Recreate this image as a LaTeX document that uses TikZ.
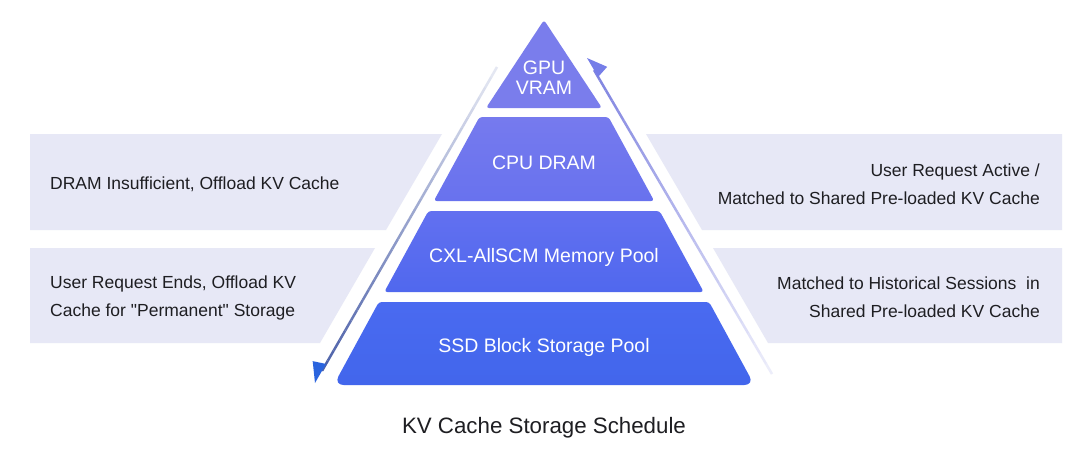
\documentclass[tikz,border=0pt]{standalone}
\usepackage{fontspec}
\setmainfont{Liberation Sans}
\usetikzlibrary{calc}

\definecolor{panelfill}{RGB}{231,232,246}
\definecolor{labeltext}{RGB}{30,30,34}
\definecolor{gpucol}{RGB}{122,125,236}
\definecolor{cputop}{RGB}{118,122,238}
\definecolor{cpubot}{RGB}{104,114,238}
\definecolor{cxltop}{RGB}{98,112,240}
\definecolor{cxlbot}{RGB}{80,104,238}
\definecolor{ssdtop}{RGB}{74,106,240}
\definecolor{ssdbot}{RGB}{66,102,236}
\definecolor{downline}{RGB}{78,98,170}
\definecolor{downhead}{RGB}{42,100,222}
\definecolor{upline}{RGB}{128,132,224}
\definecolor{uphead}{RGB}{118,126,232}

\tikzset{
  panel/.style={fill=panelfill},
  tierlabel/.style={text=white, font=\fontsize{19.5}{20}\selectfont, align=center},
  sidetext/.style={text=labeltext, inner sep=0pt, font=\fontsize{17.5}{28}\selectfont},
  flowline/.style={line width=2.5pt}
}

\begin{document}
\begin{tikzpicture}[x=1pt, y=-1pt]
  \useasboundingbox[fill=white] (0,0) rectangle (1080,464);

  % side panels
  \fill[panel] (30,134) -- (442,134) -- (386,230) -- (30,230) -- cycle;
  \fill[panel] (30,248) -- (375,248) -- (320,343) -- (30,343) -- cycle;
  \fill[panel] (646,134) -- (1062,134) -- (1062,230) -- (702,230) -- cycle;
  \fill[panel] (713,248) -- (1062,248) -- (1062,343) -- (768,343) -- cycle;

  % flow lines
  \coordinate (lTop) at (497,67);
  \coordinate (lTip) at (315,383);
  \coordinate (lEnd) at ($(lTip)!14pt!(lTop)$);
  \coordinate (rBot) at (772,374);
  \coordinate (rTip) at (587,58);
  \coordinate (rEnd) at ($(rTip)!14pt!(rBot)$);
  \foreach \i in {0,...,29} {
    \pgfmathsetmacro\p{15+85*\i/29}
    \draw[flowline, draw=downline!\p!white] ($(lTop)!\i/30!(lEnd)$) -- ($(lTop)!{(\i+1)/30}!(lEnd)$);
    \draw[flowline, draw=upline!\p!white] ($(rBot)!\i/30!(rEnd)$) -- ($(rBot)!{(\i+1)/30}!(rEnd)$);
  }
  \fill[downhead] (lTip) -- ($(lTip)!22pt!36:(lTop)$) -- ($(lTip)!22pt!(lTop)$) -- cycle;
  \fill[uphead] (rTip) -- ($(rTip)!22pt!36:(rBot)$) -- ($(rTip)!22pt!(rBot)$) -- cycle;

  % pyramid tiers
  \fill[gpucol, rounded corners=3pt] (544,20) -- (602,108) -- (486,108) -- cycle;
  \foreach \ytop/\ybot/\ctop/\cbot/\rb in {117/201/cputop/cpubot/3, 211/292/cxltop/cxlbot/3, 302/385/ssdtop/ssdbot/10} {
    \pgfmathsetmacro\wt{0.544*(\ytop+1.6)}
    \pgfmathsetmacro\wb{0.544*(\ybot+1.6)}
    \shade[top color=\ctop, bottom color=\cbot]
      (544,\ytop) [rounded corners=3pt] -- ({544+\wt},\ytop)
      [rounded corners=\rb pt] -- ({544+\wb},\ybot) -- ({544-\wb},\ybot)
      [rounded corners=3pt] -- ({544-\wt},\ytop) -- cycle;
  }

  \node[tierlabel] (gpu) at (544,78) {GPU\\VRAM};
  \node[tierlabel] (cpu) at (544,163) {CPU DRAM};
  \node[tierlabel] (cxl) at (544,257) {CXL-AllSCM Memory Pool};
  \node[tierlabel] (ssd) at (544,347) {SSD Block Storage Pool};

  % panel texts
  \node[sidetext, anchor=west] (dramOff) at (50,184) {DRAM Insufficient, Offload KV Cache};
  \node[sidetext, anchor=west, align=left] (reqEnd) at (50,298) {User Request Ends, Offload KV\\Cache for \textquotedbl Permanent\textquotedbl{} Storage};
  \node[sidetext, anchor=east, align=right] (reqActive) at (1040,184) {User Request Active /\\Matched to Shared Pre-loaded KV Cache};
  \node[sidetext, anchor=east, align=right] (histMatch) at (1040,297) {Matched to Historical Sessions\ \ in\\Shared Pre-loaded KV Cache};

  \node[font=\fontsize{22.3}{26}\selectfont, text=labeltext] (title) at (544,428) {KV Cache Storage Schedule};
\end{tikzpicture}
\end{document}
